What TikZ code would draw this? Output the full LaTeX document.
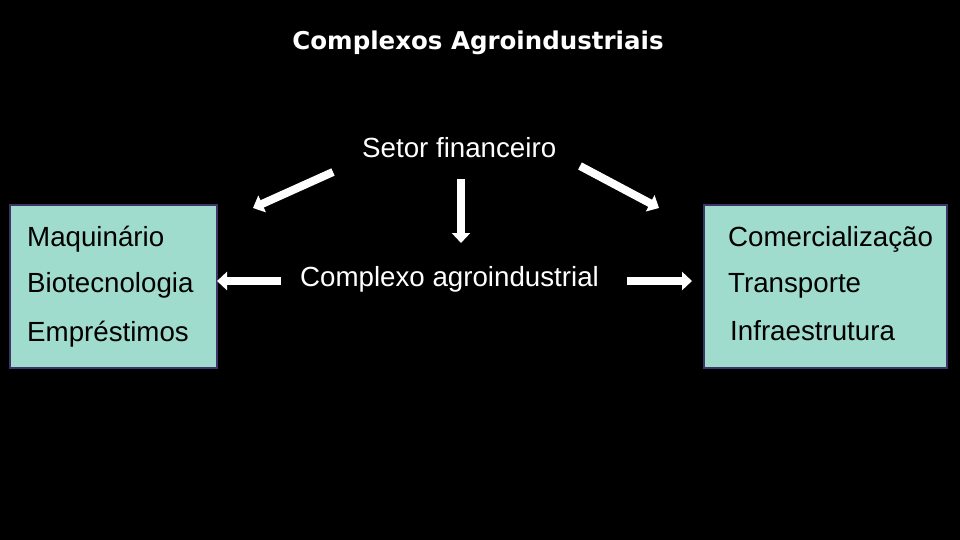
\documentclass[tikz,border=0pt]{standalone}
\usepackage{fontspec}
\setmainfont{Liberation Sans}
\newfontfamily\titlefont{DejaVu Sans}
\usepackage{tikz}
\usetikzlibrary{arrows.meta,positioning}

\definecolor{boxfill}{HTML}{A0DCCD}
\definecolor{boxline}{HTML}{3E3466}

\begin{document}
\begin{tikzpicture}[x=1pt,y=-1pt,
    txt/.style={anchor=base west,inner sep=0pt,font=\fontsize{27.7}{32}\selectfont},
    wtxt/.style={txt,text=white},
    setorbox/.style={draw=boxline,line width=2.5pt,fill=boxfill},
    bigarrow/.style={white,line width=8pt,-{Triangle[length=10pt,width=18pt]}}]
                \fill[black] (0,0) rectangle (960,540);
                \useasboundingbox (0,0) rectangle (960,540);
                % titulo
                \node[anchor=base,inner sep=0pt,text=white,font=\titlefont\bfseries\fontsize{24.5}{28}\selectfont] (titulo) at (478,50) {Complexos Agroindustriais};
                % caixas laterais
                \draw[setorbox] (10,205) rectangle (217,368);
                \draw[setorbox] (704,205) rectangle (947,368);
                \node[txt] (maq) at (27,246) {Maquinário};
                \node[txt] (bio) at (27,292) {Biotecnologia};
                \node[txt] (emp) at (27,341) {Empréstimos};
                \node[txt] (com) at (728,246) {Comercialização};
                \node[txt] (tra) at (728,292) {Transporte};
                \node[txt] (inf) at (730,340) {Infraestrutura};
                % centro
                \node[wtxt] (setor) at (362,158) {Setor financeiro};
                \node[wtxt] (cplx) at (300,286) {Complexo agroindustrial};
                % setas
                \coordinate (ld0) at (333,172);  \coordinate (ld1) at (253,208);
                \coordinate (v0) at (461,179);   \coordinate (v1) at (461,243);
                \coordinate (rd0) at (580,166);  \coordinate (rd1) at (659,208);
                \coordinate (lh0) at (281,281);  \coordinate (lh1) at (217,281);
                \coordinate (rh0) at (627,281);  \coordinate (rh1) at (692,281);
                \draw[bigarrow] (ld0) -- (ld1);
                \draw[bigarrow] (v0) -- (v1);
                \draw[bigarrow] (rd0) -- (rd1);
                \draw[bigarrow] (lh0) -- (lh1);
                \draw[bigarrow] (rh0) -- (rh1);
            \end{tikzpicture}
\end{document}
